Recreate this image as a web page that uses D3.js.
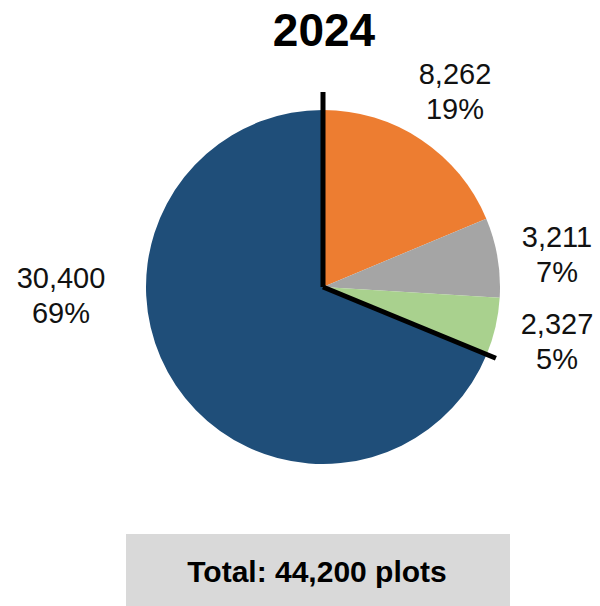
<!DOCTYPE html>
<html>
<head>
<meta charset="utf-8">
<script src="https://cdn.jsdelivr.net/npm/d3@7/dist/d3.min.js"></script>
<style>
  html, body { margin: 0; padding: 0; background: #fff; }
  svg { display: block; font-family: "Liberation Sans", Arial, sans-serif; }
</style>
</head>
<body>
<svg id="chart" width="600" height="606"></svg>
<script>
// Plot counts by category, 2024 (clockwise from 12 o'clock)
const categories = ["Orange", "Gray", "Green", "Navy"];
const values = [8262, 3211, 2327, 30400];
const percentLabels = ["19%", "7%", "5%", "69%"];
const colors = ["#ED7D31", "#A5A5A5", "#A9D18E", "#1F4E79"];
const title = "2024";
const totalLabel = "Total: 44,200 plots";

const svg = d3.select("#chart");
const cx = 323, cy = 287, radius = 177;

svg.append("text")
  .attr("x", 324).attr("y", 46)
  .attr("text-anchor", "middle")
  .attr("font-size", 46).attr("font-weight", "bold")
  .attr("fill", "#000")
  .text(title);

const pie = d3.pie().sort(null).value(d => d)(values);
const arc = d3.arc().innerRadius(0).outerRadius(radius);

const g = svg.append("g").attr("transform", `translate(${cx},${cy})`);
g.selectAll("path.slice")
  .data(pie)
  .join("path")
  .attr("class", "slice")
  .attr("d", arc)
  .attr("fill", (d, i) => colors[i]);

// Heavy separators: 12 o'clock and the boundary after the first three slices
const sepAngles = [pie[0].startAngle, pie[2].endAngle];
const sepLengths = [195, 187];
sepAngles.forEach((a, k) => {
  g.append("line")
    .attr("x1", 0).attr("y1", 0)
    .attr("x2", Math.sin(a) * sepLengths[k])
    .attr("y2", -Math.cos(a) * sepLengths[k])
    .attr("stroke", "#000")
    .attr("stroke-width", 5)
    .attr("stroke-linecap", "butt");
});

// Label anchor points (horizontal centre, first-line baseline)
const labelAt = [[455, 84], [557, 247], [557, 334], [61, 288]];
const lineGap = 35;
const fmt = d3.format(",");
pie.forEach((d, i) => {
  const t = svg.append("text")
    .attr("text-anchor", "middle")
    .attr("font-size", 29)
    .attr("fill", "#111");
  t.append("tspan").attr("x", labelAt[i][0]).attr("y", labelAt[i][1]).text(fmt(values[i]));
  t.append("tspan").attr("x", labelAt[i][0]).attr("y", labelAt[i][1] + lineGap).text(percentLabels[i]);
});

// Total box
svg.append("rect")
  .attr("x", 126).attr("y", 534)
  .attr("width", 384).attr("height", 72)
  .attr("fill", "#D9D9D9");
svg.append("text")
  .attr("x", 317).attr("y", 582)
  .attr("text-anchor", "middle")
  .attr("font-size", 30).attr("font-weight", "bold")
  .attr("fill", "#000")
  .text(totalLabel);
</script>
</body>
</html>
